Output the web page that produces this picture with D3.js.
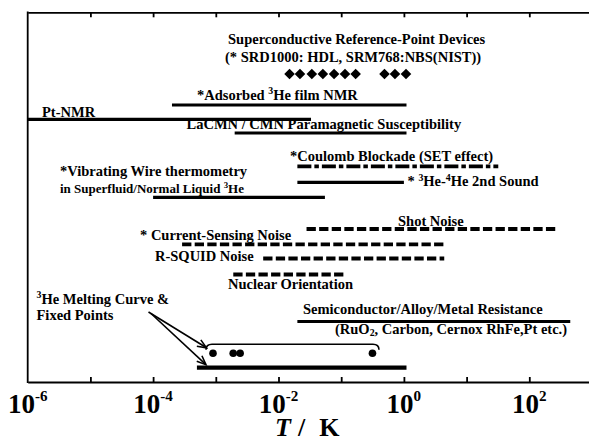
<!DOCTYPE html>
<html>
<head>
<meta charset="utf-8">
<script src="https://cdn.jsdelivr.net/npm/d3@7/dist/d3.min.js"></script>
<style>
    html, body { margin: 0; padding: 0; background: #fff; }
    svg { display: block; font-family: "Liberation Serif", "Times New Roman", serif; font-weight: bold; }
</style>
</head>
<body>
<div id="chart"></div>
<script>
//DATA ---------------------------------------------------------------------
const methods = [
    "Adsorbed 3He film NMR",
    "Pt-NMR",
    "LaCMN / CMN Susceptibility",
    "Coulomb Blockade",
    "3He-4He 2nd Sound",
    "Vibrating Wire",
    "Shot Noise",
    "Current-Sensing Noise",
    "R-SQUID Noise",
    "Nuclear Orientation",
    "Semiconductor/Alloy/Metal Resistance",
    "3He Melting Curve",
];
const tLow  = [2e-4, 1e-6, 2e-3, 0.02, 0.02, 1e-4, 0.028, 2.9e-4, 5.7e-3, 1.9e-3, 0.02, 5e-4];
const tHigh = [1.1, 0.033, 1.1, 32, 1.0, 0.055, 290, 4.6, 4.4, 0.11, 450, 1.1];

// superconductive reference points (SRD1000 / SRM768), K
const refPoints = [0.015, 0.022, 0.034, 0.051, 0.077, 0.115, 0.17, 0.49, 0.72, 1.08];
// 3He melting curve fixed points, K
const fixedPoints = [0.000902, 0.001896, 0.002444, 0.31524];

const decades = [-5, -4, -3, -2, -1, 0, 1, 2];
const labelExponents = [-6, -4, -2, 0, 2];

//SETTINGS ---------------------------------------------------------------------
const settings = {
    width: 589,
    height: 441,
    margins: { left: 27.7, right: 592, top: 12.3, bottom: 382 },
    labelSize: 14.5,
};

const lineKind = {
    "Coulomb Blockade": "dashdot",
    "Shot Noise": "dash",
    "Current-Sensing Noise": "dash",
    "R-SQUID Noise": "dash",
    "Nuclear Orientation": "dash",
    "3He Melting Curve": "thick",
};

const rowY = d3.scaleOrdinal()
    .domain(methods.concat(["refPoints", "fixedPoints"]))
    .range([105, 119.3, 133, 166.3, 182.3, 197.3, 229, 244.3, 258.5, 274.5, 321.5, 367.7, 74, 353.3]);

// text annotations: ^{} = superscript, _{} = subscript
const labels = [
    { text: "Superconductive Reference-Point Devices", x: 228, y: 43.5 },
    { text: "(* SRD1000: HDL, SRM768:NBS(NIST))", x: 225, y: 61.5 },
    { text: "*Adsorbed ^{3}He film NMR", x: 197, y: 99.5 },
    { text: "Pt-NMR", x: 42, y: 116.5 },
    { text: "LaCMN / CMN Paramagnetic Susceptibility", x: 186.5, y: 128.5 },
    { text: "*Coulomb Blockade (SET effect)", x: 290, y: 160.5 },
    { text: "* ^{3}He-^{4}He 2nd Sound", x: 407.5, y: 186 },
    { text: "*Vibrating Wire thermometry", x: 60, y: 175.5 },
    { text: "in Superfluid/Normal Liquid ^{3}He", x: 60, y: 192.5, size: 13 },
    { text: "Shot Noise", x: 398, y: 226 },
    { text: "* Current-Sensing Noise", x: 140, y: 239.5 },
    { text: "R-SQUID Noise", x: 155, y: 261 },
    { text: "Nuclear Orientation", x: 228, y: 288.5 },
    { text: "^{3}He Melting Curve &", x: 36.5, y: 303.5 },
    { text: "Fixed Points", x: 36.5, y: 320 },
    { text: "Semiconductor/Alloy/Metal Resistance", x: 303, y: 313.5 },
    { text: "(RuO_{2}, Carbon, Cernox RhFe,Pt etc.)", x: 335, y: 333.5 },
];

//HELPERS ---------------------------------------------------------------------
function richText(textSel, str, size, supScale = 0.68, supRaise = 0.36) {
    const parts = str.split(/(\^\{[^}]*\}|_\{[^}]*\})/).filter(s => s.length);
    let cur = 0;
    parts.forEach(p => {
        let target = 0, txt = p, fs = size;
        if (p[0] === "^") { target = -size * supRaise; txt = p.slice(2, -1); fs = size * supScale; }
        else if (p[0] === "_") { target = size * 0.2; txt = p.slice(2, -1); fs = size * supScale; }
        textSel.append("tspan")
            .attr("dy", target - cur)
            .attr("font-size", fs)
            .text(txt);
        cur = target;
    });
}

//SVG ---------------------------------------------------------------------
const { width, height, labelSize, margins } = settings;
const mL = margins.left, mR = margins.right, mT = margins.top, mB = margins.bottom;

const svg = d3.select("#chart")
    .append("svg")
    .attr("width", width)
    .attr("height", height);

const xScale = d3.scaleLog()
    .domain([1e-6, 1e3])
    .range([mL, mR]);

//AXES ---------------------------------------------------------------------
const tickValues = decades.map(d => Math.pow(10, d));

svg.append("g")
    .attr("transform", `translate(0, ${mB})`)
    .call(d3.axisBottom(xScale).tickValues(tickValues).tickSize(-5).tickSizeOuter(0).tickFormat(""));

svg.append("g")
    .attr("transform", `translate(0, ${mT})`)
    .call(d3.axisTop(xScale).tickValues(tickValues).tickSize(-5).tickSizeOuter(0).tickFormat(""));

svg.selectAll(".domain, .tick line")
    .attr("stroke", "#000")
    .attr("stroke-width", 1.8);

svg.append("line")
    .attr("x1", mL).attr("x2", mL)
    .attr("y1", mT - 0.9).attr("y2", mB + 0.9)
    .attr("stroke", "#000")
    .attr("stroke-width", 1.8);

svg.append("g")
    .selectAll("text")
    .data(labelExponents)
    .join("text")
    .attr("x", d => xScale(Math.pow(10, d)))
    .attr("y", 412.7)
    .attr("text-anchor", "middle")
    .each(function (d) {
        richText(d3.select(this), `10^{${d}}`, 27, 0.56, 0.44);
    });

const title = svg.append("text")
    .attr("x", 275)
    .attr("y", 435.5)
    .attr("font-size", 26);
title.append("tspan").style("font-style", "italic").text("T");
title.append("tspan").attr("dx", 7).text("/");
title.append("tspan").attr("dx", 14).text("K");

//BARS ---------------------------------------------------------------------
const bars = methods.map((m, i) => ({ name: m, lo: tLow[i], hi: tHigh[i] }));

svg.append("g")
    .selectAll("line")
    .data(bars)
    .join("line")
    .attr("x1", d => xScale(d.lo))
    .attr("x2", d => xScale(d.hi))
    .attr("y1", d => rowY(d.name))
    .attr("y2", d => rowY(d.name))
    .attr("stroke", "#000")
    .attr("stroke-width", d => {
        const k = lineKind[d.name];
        if (k === "thick") return 4.3;
        if (k === "dash" || k === "dashdot") return 3.8;
        return 3.2;
    })
    .attr("stroke-dasharray", d => {
        const k = lineKind[d.name];
        if (k === "dash") return "9.3,3.3";
        if (k === "dashdot") return "14,3,4.5,3";
        return null;
    });

//POINTS ---------------------------------------------------------------------
svg.append("g")
    .selectAll("path")
    .data(refPoints)
    .join("path")
    .attr("d", d3.symbol(d3.symbolSquare, 56))
    .attr("transform", d => `translate(${xScale(d)}, ${rowY("refPoints")}) rotate(45)`)
    .attr("fill", "#000");

svg.append("g")
    .selectAll("circle")
    .data(fixedPoints)
    .join("circle")
    .attr("cx", d => xScale(d))
    .attr("cy", rowY("fixedPoints"))
    .attr("r", 3.8)
    .attr("fill", "#000");

// bracket over the fixed points
const bx0 = xScale(d3.min(fixedPoints)) - 7;
const bx1 = xScale(d3.max(fixedPoints)) + 6.5;
const by = rowY("fixedPoints") - 9;
svg.append("path")
    .attr("d", `M${bx0},${by + 5.5} Q${bx0},${by} ${bx0 + 6},${by} L${bx1 - 6},${by} Q${bx1},${by} ${bx1},${by + 5.5}`)
    .attr("fill", "none")
    .attr("stroke", "#000")
    .attr("stroke-width", 1.6);

// arrows from the melting-curve label
svg.append("defs").append("marker")
    .attr("id", "arrow")
    .attr("markerUnits", "userSpaceOnUse")
    .attr("viewBox", "-10 -6 12 12")
    .attr("markerWidth", 12)
    .attr("markerHeight", 12)
    .attr("orient", "auto")
    .append("path")
    .attr("d", "M-9,-3.8 L0,0 L-9,3.8")
    .attr("fill", "none")
    .attr("stroke", "#000")
    .attr("stroke-width", 1.6);

const meltIdx = methods.indexOf("3He Melting Curve");
const arrows = [
    { from: [148.5, 312], to: [bx0 + 0.5, by + 3.5] },
    { from: [151, 313.5], to: [xScale(tLow[meltIdx]) + 9, rowY(methods[meltIdx]) - 3] },
];
svg.append("g")
    .selectAll("line")
    .data(arrows)
    .join("line")
    .attr("x1", d => d.from[0]).attr("y1", d => d.from[1])
    .attr("x2", d => d.to[0]).attr("y2", d => d.to[1])
    .attr("stroke", "#000")
    .attr("stroke-width", 1.6)
    .attr("marker-end", "url(#arrow)");

//LABELS ---------------------------------------------------------------------
svg.append("g")
    .selectAll("text")
    .data(labels)
    .join("text")
    .attr("x", d => d.x)
    .attr("y", d => d.y)
    .style("white-space", "pre")
    .each(function (d) {
        richText(d3.select(this), d.text, d.size || labelSize);
    });
</script>
</body>
</html>
